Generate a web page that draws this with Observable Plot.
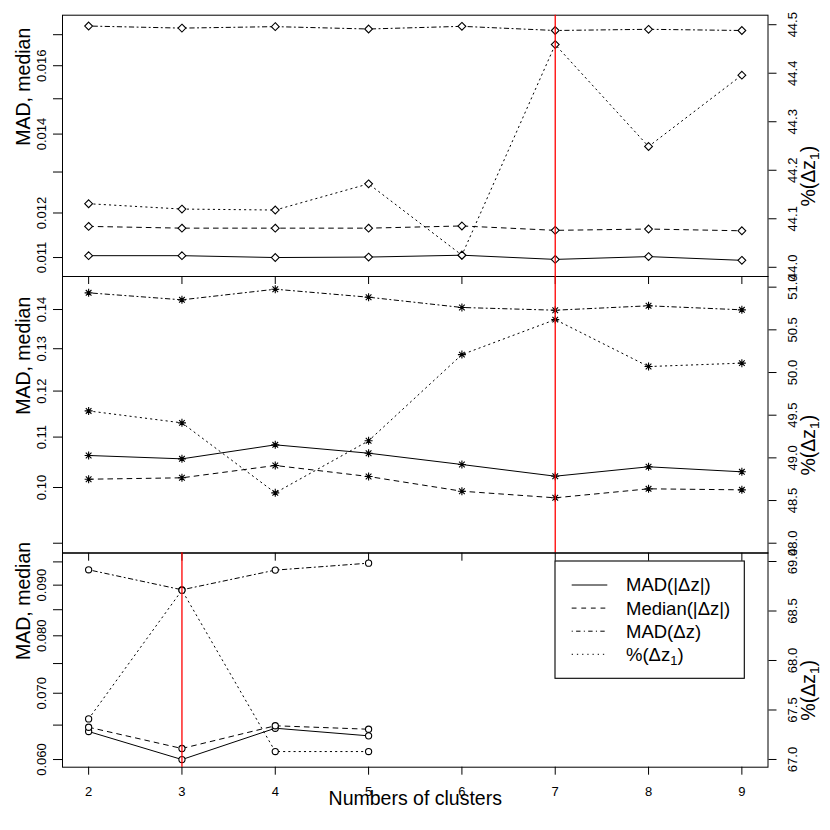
<!DOCTYPE html>
<html><head><meta charset="utf-8">
<script src="https://cdn.jsdelivr.net/npm/d3@7"></script>
<script src="https://cdn.jsdelivr.net/npm/@observablehq/plot@0.6"></script>
<style>
body{margin:0;background:#fff;}
#chart{position:relative;width:830px;height:830px;background:#fff;font-family:"Liberation Sans",Arial,Helvetica,sans-serif;}
#chart svg{position:absolute;left:0;top:0;}
</style></head><body><div id="chart"></div>
<script>
// ---------- data ----------
const clusters = [2, 3, 4, 5, 6, 7, 8, 9];
const clustersBottom = [2, 3, 4, 5];
const seriesNames = ["MAD(|Δz|)", "Median(|Δz|)", "MAD(Δz)", "%(Δz_1)"];
const xTitle = "Numbers of clusters";
const leftTitle = "MAD, median";
const rightTitle = "%(Δz_1)";

// top panel
const topMadAbs = [0.01104, 0.01104, 0.01100, 0.01101, 0.01105, 0.01096, 0.01102, 0.01094];
const topMedAbs = [0.01169, 0.01165, 0.01165, 0.01165, 0.01170, 0.01160, 0.01163, 0.01159];
const topMad    = [0.01729, 0.01722, 0.01727, 0.01719, 0.01728, 0.01714, 0.01718, 0.01714];
const topPct    = [44.131, 44.120, 44.118, 44.172, 44.025, 44.459, 44.249, 44.396];
// middle panel
const midMadAbs = [0.10624, 0.10557, 0.1084, 0.1067, 0.10444, 0.10216, 0.10399, 0.10301];
const midMedAbs = [0.10158, 0.10185, 0.10425, 0.1021, 0.0993, 0.09807, 0.09975, 0.09956];
const midMad    = [0.14449, 0.14259, 0.14548, 0.1433, 0.14054, 0.13982, 0.14099, 0.13992];
const midPct    = [49.55, 49.41, 48.59, 49.20, 50.21, 50.62, 50.07, 50.11];
// bottom panel
const botMadAbs = [0.06404, 0.06000, 0.06453, 0.06340];
const botMedAbs = [0.06468, 0.06156, 0.06490, 0.06438];
const botMad    = [0.09327, 0.08903, 0.09320, 0.09472];
const botPct    = [67.41, 68.71, 67.08, 67.08];

// chosen number of clusters (red line)
const topChosen = 7, midChosen = 7, botChosen = 3;

// tick values and labels
const topLeftTicks = [0.011, 0.012, 0.013, 0.014, 0.015, 0.016, 0.017];
const topLeftLabels = ["0.011", "0.012", "", "0.014", "", "0.016", ""];
const midLeftTicks = [0.09, 0.10, 0.11, 0.12, 0.13, 0.14];
const midLeftLabels = ["0.09", "0.10", "0.11", "0.12", "0.13", "0.14"];
const botLeftTicks = [0.060, 0.065, 0.070, 0.075, 0.080, 0.085, 0.090, 0.095];
const botLeftLabels = ["0.060", "", "0.070", "", "0.080", "", "0.090", ""];
const topRightTicks = [44.0, 44.1, 44.2, 44.3, 44.4, 44.5];
const topRightLabels = ["44.0", "44.1", "44.2", "44.3", "44.4", "44.5"];
const midRightTicks = [48.0, 48.5, 49.0, 49.5, 50.0, 50.5, 51.0];
const midRightLabels = ["48.0", "48.5", "49.0", "49.5", "50.0", "50.5", "51.0"];
const botRightTicks = [67.0, 67.5, 68.0, 68.5, 69.0];
const botRightLabels = ["67.0", "67.5", "68.0", "68.5", "69.0"];

// ---------- layout / style ----------
const W = 830, H = 830, ML = 62, MR = 62.5;
const X_DOMAIN = [1.72, 9.28];
const FONT = '"Liberation Sans", Arial, Helvetica, sans-serif';
const DASH = "4.8,4.8", DOTDASH = "1.1,3.3,4.4,3.3", DOT = "1.3,3.9";

const diamond = {draw(ctx, size) {const r = Math.sqrt(size / Math.PI); ctx.moveTo(0, -r); ctx.lineTo(r, 0); ctx.lineTo(0, r); ctx.lineTo(-r, 0); ctx.closePath();}};
const asterisk = {draw(ctx, size) {const r = Math.sqrt(size / Math.PI), d = r * Math.SQRT1_2;
  ctx.moveTo(-r, 0); ctx.lineTo(r, 0); ctx.moveTo(0, -r); ctx.lineTo(0, r);
  ctx.moveTo(-d, -d); ctx.lineTo(d, d); ctx.moveTo(-d, d); ctx.lineTo(d, -d);}};

const baseStyle = {background: "transparent", overflow: "visible", fontFamily: FONT, fontSize: "13px", color: "black"};

function rows(xs, arr) { return arr.map((v, i) => ({x: xs[i], v})); }
function labeler(ticks, labels) { return d => { const i = ticks.findIndex(t => Math.abs(t - d) < 1e-9); return i < 0 ? "" : labels[i]; }; }

function seriesMarks(data, dash, symbol, r) {
  return [
    Plot.line(data, {x: "x", y: "v", stroke: "black", strokeWidth: 1, strokeDasharray: dash || undefined}),
    Plot.dot(data, {x: "x", y: "v", symbol, r, fill: "white", stroke: "none"}),
    Plot.dot(data, {x: "x", y: "v", symbol, r, fill: "none", stroke: "black", strokeWidth: 1.1})
  ];
}

function panel(cfg) {
  const common = {
    width: W, height: H, marginLeft: ML, marginRight: MR,
    marginTop: cfg.top, marginBottom: H - cfg.bottom,
    style: baseStyle
  };
  const left = Plot.plot({
    ...common,
    x: {domain: X_DOMAIN},
    y: {type: "log", domain: cfg.leftDomain},
    marks: [
      Plot.frame({stroke: "black", strokeWidth: 1}),
      ...seriesMarks(rows(cfg.xs, cfg.madAbs), null, cfg.symbol, cfg.r),
      ...seriesMarks(rows(cfg.xs, cfg.medAbs), DASH, cfg.symbol, cfg.r),
      ...seriesMarks(rows(cfg.xs, cfg.mad), DOTDASH, cfg.symbol, cfg.r),
      Plot.axisY({anchor: "left", ticks: cfg.leftTicks, tickFormat: labeler(cfg.leftTicks, cfg.leftLabels),
        tickSize: 9, tickPadding: 8, tickRotate: -90, textAnchor: "middle", lineAnchor: "bottom",
        fontSize: 13, label: null}),
      Plot.axisX({ticks: clusters, tickSize: 8, tickPadding: 12,
        tickFormat: cfg.xLabels ? d => String(d) : () => "", fontSize: 13, label: null}),
      Plot.text([leftTitle], {text: d => d, frameAnchor: "left", dx: -38.5, rotate: -90, fontSize: 19.5, fill: "black"}),
      ...(cfg.xLabels ? [Plot.text([xTitle], {text: d => d, frameAnchor: "bottom", dy: 37.6, fontSize: 19.5, fill: "black"})] : [])
    ]
  });
  const right = Plot.plot({
    ...common,
    x: {domain: X_DOMAIN, axis: null},
    y: {domain: cfg.rightDomain, axis: null},
    marks: [
      ...seriesMarks(rows(cfg.xs, cfg.pct), DOT, cfg.symbol, cfg.r),
      Plot.ruleX([cfg.chosen], {stroke: "#ff0000", strokeWidth: 1.3}),
      Plot.axisY({anchor: "right", ticks: cfg.rightTicks, tickFormat: labeler(cfg.rightTicks, cfg.rightLabels),
        tickSize: 8, tickPadding: 11.5, tickRotate: -90, textAnchor: "middle", lineAnchor: "top",
        fontSize: 13, label: null}),
      Plot.text([rightTitle], {text: d => d, frameAnchor: "right", dx: 40.5, rotate: -90, fontSize: 19.5, fill: "black"})
    ]
  });
  return [left, right];
}

// render "_1" as a subscript in text elements
function subscriptify(root) {
  d3.select(root).selectAll("text").each(function() {
    const s = this.textContent;
    const m = s.match(/^(.*)_(\d)(.*)$/);
    if (!m || this.querySelector("tspan")) return;
    const t = d3.select(this); t.text(null);
    t.append("tspan").text(m[1]);
    t.append("tspan").attr("font-size", "0.7em").attr("dy", "0.3em").text(m[2]);
    t.append("tspan").attr("dy", "-0.21em").text(m[3]);
  });
}

const chart = document.getElementById("chart");
const panels = [
  {top: 14.7, bottom: 276, leftDomain: [0.0106, 0.01766], rightDomain: [43.981, 44.5196],
   xs: clusters, madAbs: topMadAbs, medAbs: topMedAbs, mad: topMad, pct: topPct,
   leftTicks: topLeftTicks, leftLabels: topLeftLabels, rightTicks: topRightTicks, rightLabels: topRightLabels,
   symbol: diamond, r: 3.9, chosen: topChosen, xLabels: false},
  {top: 276, bottom: 552.7, leftDomain: [0.08832, 0.14902], rightDomain: [47.883, 51.125],
   xs: clusters, madAbs: midMadAbs, medAbs: midMedAbs, mad: midMad, pct: midPct,
   leftTicks: midLeftTicks, leftLabels: midLeftLabels, rightTicks: midRightTicks, rightLabels: midRightLabels,
   symbol: asterisk, r: 4, chosen: midChosen, xLabels: false},
  {top: 552.3, bottom: 766.7, leftDomain: [0.05894, 0.09703], rightDomain: [66.922, 69.088],
   xs: clustersBottom, madAbs: botMadAbs, medAbs: botMedAbs, mad: botMad, pct: botPct,
   leftTicks: botLeftTicks, leftLabels: botLeftLabels, rightTicks: botRightTicks, rightLabels: botRightLabels,
   symbol: "circle", r: 3.1, chosen: botChosen, xLabels: true}
];
for (const p of panels) for (const svg of panel(p)) { chart.appendChild(svg); subscriptify(svg); }

// legend
const lg = d3.select(chart).append("svg").attr("width", W).attr("height", H)
  .style("position", "absolute").style("left", 0).style("top", 0).style("overflow", "visible");
const legendDashes = [null, DASH, DOTDASH, DOT];
const lbx = 555, lby = 561, lbw = 189.3, lbh = 117.3, rowY0 = 585, rowStep = 23.1;
lg.append("rect").attr("x", lbx).attr("y", lby).attr("width", lbw).attr("height", lbh)
  .attr("fill", "white").attr("stroke", "black").attr("stroke-width", 1.1);
seriesNames.forEach((name, i) => {
  const y = rowY0 + i * rowStep;
  lg.append("line").attr("x1", 571.7).attr("x2", 607.3).attr("y1", y).attr("y2", y)
    .attr("stroke", "black").attr("stroke-width", 1).attr("stroke-dasharray", legendDashes[i]);
  lg.append("text").attr("x", 626).attr("y", y).attr("dy", "0.35em")
    .attr("font-family", FONT).attr("font-size", 18.5).attr("fill", "black").text(name);
});
subscriptify(lg.node());
</script></body></html>
